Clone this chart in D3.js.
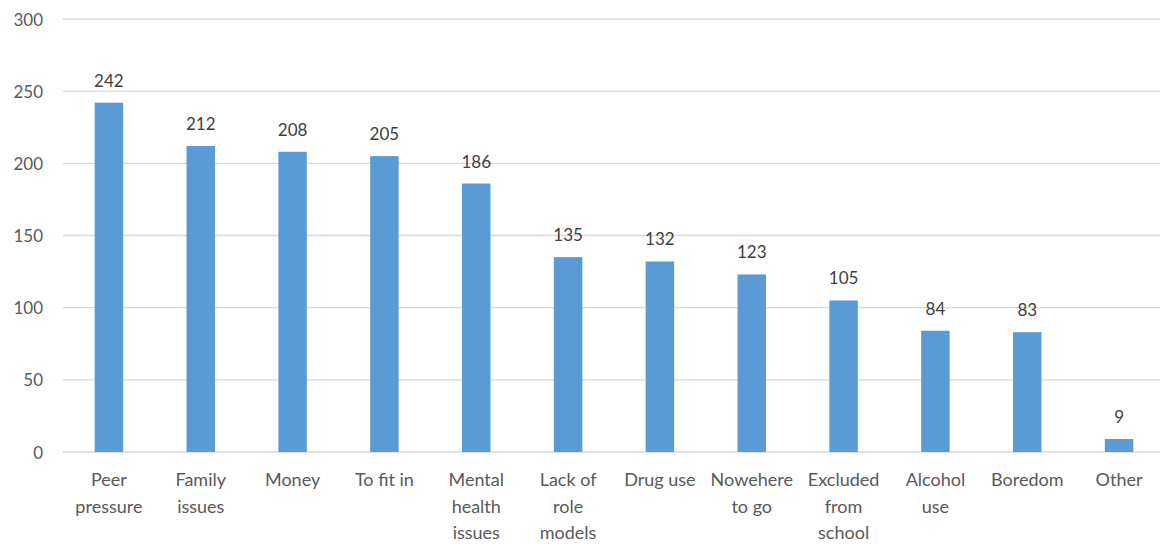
<!DOCTYPE html>
<html><head><meta charset="utf-8">
<script src="https://cdn.jsdelivr.net/npm/d3@7"></script>
<style>body{margin:0;background:#fff;}svg{display:block;}</style>
</head><body>
<svg id="chart" width="1160" height="545"></svg>
<script>
const categories = [
  ["Peer","pressure"],["Family","issues"],["Money"],["To fit in"],
  ["Mental","health","issues"],["Lack of","role","models"],["Drug use"],
  ["Nowehere","to go"],["Excluded","from","school"],["Alcohol","use"],
  ["Boredom"],["Other"]
];
const values = [242,212,208,205,186,135,132,123,105,84,83,9];
const yTicks = [0,50,100,150,200,250,300];

(function(){
const svg = d3.select("#chart");
const mLeft = 63, mRight = 1165, mTop = 19, mBottom = 452;
const font = "Lato, 'Open Sans', sans-serif";

const x = d3.scaleBand().domain(d3.range(categories.length)).range([mLeft, mRight]).padding(0);
const y = d3.scaleLinear().domain([0,300]).range([mBottom, mTop]);
const barW = x.bandwidth()*0.31;

svg.append("g").selectAll("line").data(yTicks).join("line")
  .attr("x1", mLeft).attr("x2", 1160)
  .attr("y1", d=>y(d)).attr("y2", d=>y(d))
  .attr("stroke", "#D9D9D9").attr("stroke-width", 1.3);

svg.append("g").selectAll("text").data(yTicks).join("text")
  .attr("x", 43).attr("y", d=>y(d))
  .attr("text-anchor","end").attr("dominant-baseline","central")
  .attr("font-family", font).attr("font-size", 17).attr("fill","#595959")
  .text(d=>d);

svg.append("g").selectAll("rect").data(values).join("rect")
  .attr("x", (d,i)=>x(i)+x.bandwidth()/2-barW/2)
  .attr("width", barW)
  .attr("y", d=>y(d)).attr("height", d=>y(0)-y(d))
  .attr("fill","#5B9BD5");

svg.append("g").selectAll("text").data(values).join("text")
  .attr("x", (d,i)=>x(i)+x.bandwidth()/2)
  .attr("y", d=>y(d)-16)
  .attr("text-anchor","middle")
  .attr("font-family", font).attr("font-size", 17).attr("fill","#404040")
  .text(d=>d);

const cg = svg.append("g").selectAll("text").data(categories).join("text")
  .attr("text-anchor","middle")
  .attr("font-family", font).attr("font-size", 18).attr("fill","#595959");
cg.each(function(lines,i){
  const t = d3.select(this);
  lines.forEach((ln,j)=>{
    t.append("tspan").attr("x", x(i)+x.bandwidth()/2).attr("y", 486 + j*26.5).text(ln);
  });
});
})();
</script>
</body></html>
